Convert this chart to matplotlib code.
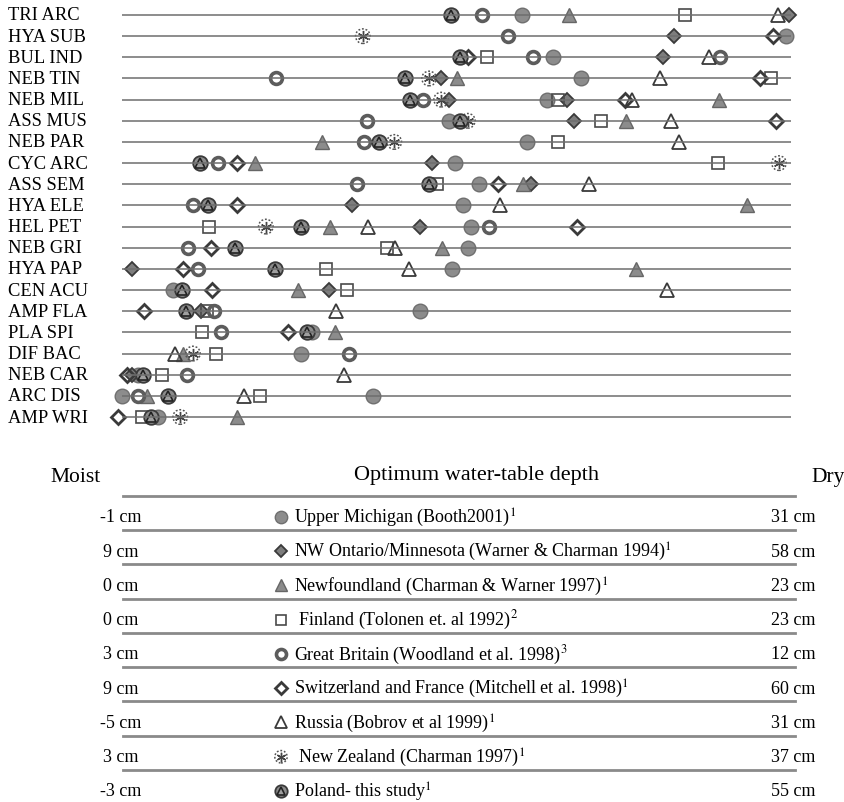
import matplotlib
matplotlib.use("Agg")
import matplotlib.pyplot as plt

plt.rcParams['font.family'] = ['Liberation Serif', 'DejaVu Serif']
plt.rcParams['mathtext.fontset'] = 'stix'

# taxa, top to bottom
TAXA = ["TRI ARC", "HYA SUB", "BUL IND", "NEB TIN", "NEB MIL", "ASS MUS",
        "NEB PAR", "CYC ARC", "ASS SEM", "HYA ELE", "HEL PET", "NEB GRI",
        "HYA PAP", "CEN ACU", "AMP FLA", "PLA SPI", "DIF BAC", "NEB CAR",
        "ARC DIS", "AMP WRI"]

# relative optimum position (0 = moist end, 1 = dry end) per data set
UPPER_MICHIGAN = [("TRI ARC", 0.598), ("HYA SUB", 0.993), ("BUL IND", 0.644),
                  ("NEB TIN", 0.686), ("NEB MIL", 0.635), ("ASS MUS", 0.489),
                  ("NEB PAR", 0.605), ("CYC ARC", 0.498), ("ASS SEM", 0.534),
                  ("HYA ELE", 0.510), ("HEL PET", 0.522), ("NEB GRI", 0.517),
                  ("HYA PAP", 0.493), ("CEN ACU", 0.076), ("AMP FLA", 0.445),
                  ("PLA SPI", 0.284), ("DIF BAC", 0.268), ("NEB CAR", 0.024),
                  ("ARC DIS", 0.0), ("ARC DIS", 0.375), ("AMP WRI", 0.054)]
NW_ONTARIO = [("TRI ARC", 0.997), ("HYA SUB", 0.825), ("BUL IND", 0.809),
              ("NEB TIN", 0.477), ("NEB MIL", 0.489), ("NEB MIL", 0.665),
              ("ASS MUS", 0.676), ("CYC ARC", 0.463), ("ASS SEM", 0.611),
              ("HYA ELE", 0.344), ("HEL PET", 0.445), ("HYA PAP", 0.015),
              ("CEN ACU", 0.309), ("AMP FLA", 0.118), ("NEB CAR", 0.015)]
NEWFOUNDLAND = [("TRI ARC", 0.668), ("NEB TIN", 0.501), ("NEB MIL", 0.892),
                ("ASS MUS", 0.753), ("NEB PAR", 0.299), ("CYC ARC", 0.199),
                ("ASS SEM", 0.599), ("HYA ELE", 0.934), ("HEL PET", 0.311),
                ("NEB GRI", 0.478), ("HYA PAP", 0.768), ("CEN ACU", 0.263),
                ("PLA SPI", 0.318), ("DIF BAC", 0.091), ("ARC DIS", 0.037),
                ("AMP WRI", 0.172)]
FINLAND = [("TRI ARC", 0.842), ("BUL IND", 0.546), ("NEB TIN", 0.970),
           ("NEB MIL", 0.652), ("ASS MUS", 0.716), ("NEB PAR", 0.652),
           ("CYC ARC", 0.891), ("ASS SEM", 0.471), ("HEL PET", 0.130),
           ("NEB GRI", 0.396), ("HYA PAP", 0.305), ("CEN ACU", 0.336),
           ("AMP FLA", 0.127), ("PLA SPI", 0.120), ("DIF BAC", 0.141),
           ("NEB CAR", 0.060), ("ARC DIS", 0.206), ("AMP WRI", 0.030)]
GREAT_BRITAIN = [("TRI ARC", 0.538), ("HYA SUB", 0.577), ("BUL IND", 0.614),
                 ("BUL IND", 0.894), ("NEB TIN", 0.230), ("NEB MIL", 0.450),
                 ("ASS MUS", 0.366), ("NEB PAR", 0.362), ("CYC ARC", 0.143),
                 ("ASS SEM", 0.351), ("HYA ELE", 0.106), ("HEL PET", 0.549),
                 ("NEB GRI", 0.099), ("HYA PAP", 0.114), ("AMP FLA", 0.138),
                 ("PLA SPI", 0.148), ("DIF BAC", 0.339), ("NEB CAR", 0.097),
                 ("ARC DIS", 0.024)]
SWITZERLAND = [("HYA SUB", 0.973), ("BUL IND", 0.517), ("NEB TIN", 0.954),
               ("NEB MIL", 0.752), ("ASS MUS", 0.978), ("CYC ARC", 0.172),
               ("ASS SEM", 0.562), ("HYA ELE", 0.172), ("HEL PET", 0.680),
               ("NEB GRI", 0.133), ("HYA PAP", 0.091), ("CEN ACU", 0.135),
               ("AMP FLA", 0.033), ("PLA SPI", 0.248), ("NEB CAR", 0.007),
               ("AMP WRI", -0.006)]
RUSSIA = [("TRI ARC", 0.981), ("BUL IND", 0.877), ("NEB TIN", 0.804),
          ("NEB MIL", 0.762), ("ASS MUS", 0.821), ("NEB PAR", 0.833),
          ("ASS SEM", 0.698), ("HYA ELE", 0.565), ("HEL PET", 0.368),
          ("NEB GRI", 0.408), ("HYA PAP", 0.429), ("CEN ACU", 0.815),
          ("AMP FLA", 0.320), ("DIF BAC", 0.079), ("NEB CAR", 0.332),
          ("ARC DIS", 0.182)]
NEW_ZEALAND = [("HYA SUB", 0.360), ("NEB TIN", 0.459), ("NEB MIL", 0.477),
               ("ASS MUS", 0.517), ("NEB PAR", 0.407), ("CYC ARC", 0.982),
               ("HEL PET", 0.215), ("DIF BAC", 0.106), ("AMP WRI", 0.087)]
POLAND = [("TRI ARC", 0.492), ("BUL IND", 0.505), ("NEB TIN", 0.423),
          ("NEB MIL", 0.430), ("ASS MUS", 0.505), ("NEB PAR", 0.384),
          ("CYC ARC", 0.117), ("ASS SEM", 0.459), ("HYA ELE", 0.129),
          ("HEL PET", 0.268), ("NEB GRI", 0.169), ("HYA PAP", 0.229),
          ("CEN ACU", 0.090), ("AMP FLA", 0.096), ("PLA SPI", 0.277),
          ("NEB CAR", 0.031), ("ARC DIS", 0.069), ("AMP WRI", 0.043)]

# legend table
SERIES_KEYS = ["um", "nw", "nf", "fi", "gb", "sw", "ru", "nz", "pl"]
SERIES_LABELS = [
    "Upper Michigan (Booth2001)$^{1}$",
    "NW Ontario/Minnesota (Warner & Charman 1994)$^{1}$",
    "Newfoundland (Charman & Warner 1997)$^{1}$",
    " Finland (Tolonen et. al 1992)$^{2}$",
    "Great Britain (Woodland et al. 1998)$^{3}$",
    "Switzerland and France (Mitchell et al. 1998)$^{1}$",
    "Russia (Bobrov et al 1999)$^{1}$",
    " New Zealand (Charman 1997)$^{1}$",
    "Poland- this study$^{1}$",
]
MOIST = ["-1 cm", "9 cm", "0 cm", "0 cm", "3 cm", "9 cm", "-5 cm", "3 cm", "-3 cm"]
DRY = ["31 cm", "58 cm", "23 cm", "23 cm", "12 cm", "60 cm", "31 cm", "37 cm", "55 cm"]

GRAY = "#8c8c8c"
DARK = "#3a3a3a"


def draw_marks(ax, key, xs, ys, k=1.0):
    # one data set drawn with its own symbol
    if key == "um":
        ax.plot(xs, ys, 'o', ms=10.5 * k, mfc=GRAY, mec="#6f6f6f", mew=1, ls='none', zorder=3)
    elif key == "nw":
        ax.plot(xs, ys, 'D', ms=7 * k, mfc="#7d7d7d", mec=DARK, mew=1.3, ls='none', zorder=3)
    elif key == "nf":
        ax.plot(xs, ys, '^', ms=9.5 * k, mfc=GRAY, mec="#666666", mew=1, ls='none', zorder=3)
    elif key == "fi":
        ax.plot(xs, ys, 's', ms=8.5 * k, mfc='none', mec="#4a4a4a", mew=1.2, ls='none', zorder=3)
    elif key == "gb":
        ax.plot(xs, ys, 'o', ms=8.5 * k, mfc='none', mec="#5c5c5c", mew=2.6, ls='none', zorder=3)
    elif key == "sw":
        ax.plot(xs, ys, 'D', ms=7 * k, mfc='none', mec=DARK, mew=2, ls='none', zorder=3)
    elif key == "ru":
        ax.plot(xs, ys, '^', ms=10 * k, mfc='none', mec=DARK, mew=1.3, ls='none', zorder=3)
    elif key == "nz":
        ax.scatter(xs, ys, s=(10.5 * k) ** 2, facecolors='none', edgecolors="#555555",
                   linewidths=1.1, linestyles=(0, (1.2, 1.2)), zorder=3)
        ax.plot(xs, ys, marker=(6, 2, 0), ms=8 * k, mec="#444444", mew=1, ls='none', zorder=3)
    elif key == "pl":
        ax.plot(xs, ys, 'o', ms=10.5 * k, mfc=GRAY, mec=DARK, mew=1.3, ls='none', zorder=3)
        ax.plot(xs, ys, '^', ms=6.5 * k, mfc="#a0a0a0", mec="#222222", mew=1.2, ls='none', zorder=4)


fig = plt.figure(figsize=(8.44, 8.03), dpi=100)

# ---- upper panel: one line per taxon ----
ax = fig.add_axes([0, 363 / 803, 1, 440 / 803])
ax.set_xlim(-122 / 669, 722 / 669)
ax.set_ylim(19 + 22 / 21.16, -16 / 21.16)
ax.axis('off')

rows = {name: i for i, name in enumerate(TAXA)}
ax.hlines(range(len(TAXA)), 0, 1, color="#6e6e6e", lw=1.3, zorder=5, alpha=0.85)
for i, name in enumerate(TAXA):
    ax.text(-0.170, i, name, ha='left', va='center', fontsize=13.3)

all_series = [UPPER_MICHIGAN, NW_ONTARIO, NEWFOUNDLAND, FINLAND, GREAT_BRITAIN,
              SWITZERLAND, RUSSIA, NEW_ZEALAND, POLAND]
for key, series in zip(SERIES_KEYS, all_series):
    xs = [v for _, v in series]
    ys = [rows[t] for t, _ in series]
    draw_marks(ax, key, xs, ys)

# ---- lower panel: legend table ----
tab = fig.add_axes([0, 0, 1, 363 / 803])
tab.set_xlim(0, 844)
tab.set_ylim(803, 440)
tab.axis('off')

tab.text(50, 478, "Moist", ha='left', va='center', fontsize=15.5)
tab.text(476, 476, "Optimum water-table depth", ha='center', va='center', fontsize=16)
tab.text(811, 478, "Dry", ha='left', va='center', fontsize=15.5)

row_y = [518 + 34.25 * i for i in range(len(SERIES_KEYS))]
for i, key in enumerate(SERIES_KEYS):
    y = row_y[i]
    tab.plot([123, 795], [y - 21, y - 21], color="#8a8a8a", lw=2)
    tab.text(121, y, MOIST[i], ha='center', va='center', fontsize=13)
    tab.text(793, y, DRY[i], ha='center', va='center', fontsize=13)
    tab.text(294, y, SERIES_LABELS[i], ha='left', va='center', fontsize=13)
    draw_marks(tab, key, [281], [y], k=0.85)

fig.savefig("out.png", dpi=100)
